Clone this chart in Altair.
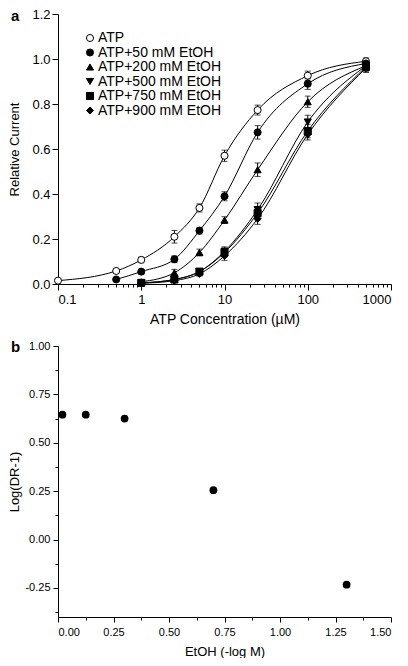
import altair as alt
import pandas as pd

# ---------------- Panel a data ----------------
series_names = ["ATP", "ATP+50 mM EtOH", "ATP+200 mM EtOH",
                "ATP+500 mM EtOH", "ATP+750 mM EtOH", "ATP+900 mM EtOH"]
series_shapes = ["circle", "circle", "triangle-up", "triangle-down", "square", "diamond"]
series_fills = ["white", "black", "black", "black", "black", "black"]

atp_conc = [0.1, 0.5, 1, 2.5, 5, 10, 25, 100, 500]
atp_val = [0.015, 0.058, 0.107, 0.21, 0.338, 0.57, 0.773, 0.926, 0.99]
atp_err = [0.005, 0.008, 0.012, 0.028, 0.018, 0.025, 0.022, 0.02, 0.015]

e50_conc = [0.5, 1, 2.5, 5, 10, 25, 100, 500]
e50_val = [0.02, 0.055, 0.11, 0.237, 0.39, 0.674, 0.89, 0.98]
e50_err = [0.008, 0.01, 0.015, 0.015, 0.02, 0.03, 0.025, 0.015]

hi_conc = [1, 2.5, 5, 10, 25, 100, 500]
e200_val = [0.01, 0.05, 0.14, 0.284, 0.508, 0.81, 0.97]
e200_err = [0.005, 0.015, 0.015, 0.015, 0.03, 0.025, 0.02]
e500_val = [0.005, 0.02, 0.055, 0.145, 0.33, 0.72, 0.97]
e500_err = [0.004, 0.008, 0.01, 0.02, 0.03, 0.03, 0.02]
e750_val = [0.005, 0.02, 0.055, 0.14, 0.315, 0.68, 0.965]
e750_err = [0.004, 0.008, 0.01, 0.02, 0.03, 0.03, 0.02]
e900_val = [0.003, 0.015, 0.045, 0.125, 0.29, 0.665, 0.96]
e900_err = [0.004, 0.008, 0.01, 0.02, 0.025, 0.025, 0.02]

# ---------------- Panel b data ----------------
etoh_neglog = [0.02, 0.125, 0.30, 0.70, 1.30]
log_dr = [0.645, 0.645, 0.625, 0.255, -0.233]

# ---------------- build tables ----------------
rows = []
for name, xs, ys, es in [
    (series_names[0], atp_conc, atp_val, atp_err),
    (series_names[1], e50_conc, e50_val, e50_err),
    (series_names[2], hi_conc, e200_val, e200_err),
    (series_names[3], hi_conc, e500_val, e500_err),
    (series_names[4], hi_conc, e750_val, e750_err),
    (series_names[5], hi_conc, e900_val, e900_err),
]:
    for x, y, e in zip(xs, ys, es):
        rows.append({"series": name, "conc": x, "val": y, "lo": y - e, "hi": y + e})
dfa = pd.DataFrame(rows)
dfb = pd.DataFrame({"etoh": etoh_neglog, "logdr": log_dr})

FONT = "Liberation Sans"

# tick values
log_ticks = [m * 10 ** k for k in range(-1, 3) for m in range(1, 10)] + [1000]
is_decade = "abs(log(datum.value)/LN10 - round(log(datum.value)/LN10)) < 1e-6"
ya_ticks = [i / 10 for i in range(0, 13)]
yb_ticks = [-0.375 + i * 0.125 for i in range(0, 12)]
xb_ticks = [i * 0.125 for i in range(0, 13)]

x_a = alt.X("conc:Q",
            scale=alt.Scale(type="log", domain=[0.1, 1000]),
            axis=alt.Axis(values=log_ticks, grid=False,
                          labelExpr=f"{is_decade} ? format(datum.value, '~g') : ''",
                          tickSize={"condition": {"test": is_decade, "value": 6}, "value": 3},
                          title="ATP Concentration (\u00b5M)",
                          labelFontSize=13, titleFontSize=14, labelPadding=3,
                          titlePadding=6, titleFontWeight="normal"))
y_a = alt.Y("val:Q",
            scale=alt.Scale(domain=[0, 1.2]),
            axis=alt.Axis(values=ya_ticks, grid=False,
                          labelExpr="round(datum.value*10) % 2 == 0 ? format(datum.value, '.1f') : ''",
                          tickSize={"condition": {"test": "round(datum.value*10) % 2 == 0", "value": 6}, "value": 3},
                          title="Relative Current",
                          labelFontSize=13, titleFontSize=13, labelPadding=2,
                          titlePadding=10, titleFontWeight="normal"))

legend = alt.Legend(title=None, orient="none", legendX=25, legendY=17,
                    labelFontSize=14, labelFont=FONT, symbolSize=50,
                    symbolStrokeWidth=1,
                    rowPadding=0.5, labelOffset=1, padding=0)

shape_enc = alt.Shape("series:N", scale=alt.Scale(domain=series_names, range=series_shapes),
                      legend=legend)
fill_enc = alt.Fill("series:N", scale=alt.Scale(domain=series_names, range=series_fills),
                    legend=legend)
stroke_enc = alt.Stroke("series:N", scale=alt.Scale(domain=series_names, range=["black"] * 6),
                        legend=legend)

base_a = alt.Chart(dfa)

lines = base_a.mark_line(interpolate="monotone", color="black", strokeWidth=1).encode(
    x=x_a, y=y_a, detail="series:N")
bars = base_a.mark_rule(color="black", strokeWidth=1).encode(
    x="conc:Q", y="lo:Q", y2="hi:Q")
cap_hi = base_a.mark_tick(color="black", orient="horizontal", size=6, thickness=1).encode(
    x="conc:Q", y="hi:Q")
cap_lo = base_a.mark_tick(color="black", orient="horizontal", size=6, thickness=1).encode(
    x="conc:Q", y="lo:Q")
points = base_a.mark_point(size=50, strokeWidth=1, opacity=1, filled=False).encode(
    x="conc:Q", y="val:Q", shape=shape_enc, fill=fill_enc, stroke=stroke_enc)
label_a = alt.Chart(pd.DataFrame({"t": ["a"]})).mark_text(
    font=FONT, fontSize=15, fontWeight="bold", align="left", baseline="middle", color="black"
).encode(text="t:N", x=alt.value(-47), y=alt.value(2))

panel_a = alt.layer(lines, bars, cap_hi, cap_lo, points, label_a).properties(width=333, height=270)

# ---------------- panel b ----------------
x_b = alt.X("etoh:Q", scale=alt.Scale(domain=[0, 1.5], nice=False, zero=False),
            axis=alt.Axis(values=xb_ticks, grid=False,
                          labelExpr="round(datum.value*8) % 2 == 0 ? format(datum.value, '.2f') : ''",
                          tickSize={"condition": {"test": "round(datum.value*8) % 2 == 0", "value": 5}, "value": 3},
                          title="EtOH (-log M)", labelFontSize=11, titleFontSize=13,
                          labelPadding=4, titlePadding=8, titleFontWeight="normal"))
y_b = alt.Y("logdr:Q", scale=alt.Scale(domain=[-0.4, 1.0], nice=False, zero=False),
            axis=alt.Axis(values=yb_ticks, grid=False,
                          labelExpr="round(datum.value*8) % 2 == 0 ? (datum.value < -0.001 ? '-' : '') + format(abs(datum.value), '.2f') : ''",
                          tickSize={"condition": {"test": "round(datum.value*8) % 2 == 0", "value": 5}, "value": 3},
                          title="Log(DR-1)", labelFontSize=11, titleFontSize=13,
                          labelPadding=3, titlePadding=3, titleFontWeight="normal"))

points_b = alt.Chart(dfb).mark_circle(size=60, color="black", opacity=1).encode(x=x_b, y=y_b)
label_b = alt.Chart(pd.DataFrame({"t": ["b"]})).mark_text(
    font=FONT, fontSize=15, fontWeight="bold", align="left", baseline="middle", color="black"
).encode(text="t:N", x=alt.value(-47), y=alt.value(1))
panel_b = alt.layer(points_b, label_b).properties(width=333, height=271)

chart = alt.vconcat(panel_a, panel_b, spacing=14).properties(
    padding={"left": 0, "top": 0, "right": 5, "bottom": 0}
).configure(font=FONT).configure_view(stroke=None).configure_axis(
    grid=False, domainColor="black", tickColor="black", labelColor="black",
    titleColor="black", labelFont=FONT, titleFont=FONT, domainWidth=1, tickWidth=1
)

chart.save("out.html", embed_options={"renderer": "svg", "actions": False})
